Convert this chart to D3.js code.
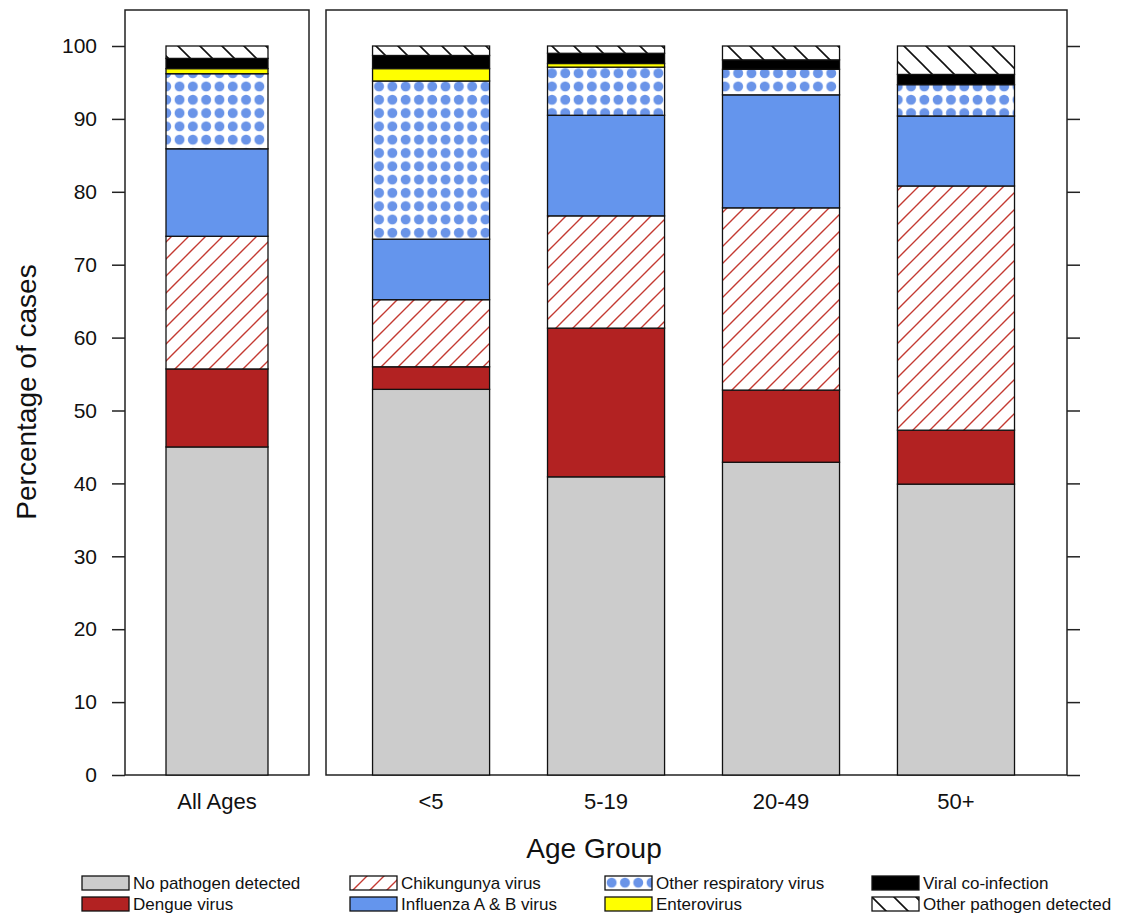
<!DOCTYPE html>
<html lang="en">
<head>
<meta charset="UTF-8">
<title>Pathogens by age group</title>
<script src="https://d3js.org/d3.v7.min.js"></script>
<style>
    body { margin: 0; background: #fff; }
    svg text { font-family: "Liberation Sans", Arial, Helvetica, sans-serif; fill: #111; }
    .frame { fill: none; stroke: #222; stroke-width: 1.5px; }
    .seg { stroke: #111; stroke-width: 1.3px; }
</style>
</head>
<body>
<div id="chart"></div>
<script>
    // groups (first one sits alone in the left panel)
    var groups = ["All Ages", "<5", "5-19", "20-49", "50+"];
    var categories = ["No pathogen detected", "Dengue virus", "Chikungunya virus",
        "Influenza A & B virus", "Other respiratory virus", "Enterovirus",
        "Viral co-infection", "Other pathogen detected"];

    // percentage of cases, one array per category, in group order
    var noPathogen   = [45.0, 52.9, 40.9, 42.9, 39.9];
    var dengue       = [10.7,  3.1, 20.4,  9.9,  7.4];
    var chikungunya  = [18.2,  9.2, 15.4, 25.0, 33.5];
    var influenza    = [12.0,  8.3, 13.8, 15.5,  9.6];
    var otherResp    = [10.3, 21.7,  6.6,  3.5,  4.3];
    var enterovirus  = [ 0.7,  1.7,  0.5,  0.0,  0.0];
    var coInfection  = [ 1.4,  1.8,  1.4,  1.3,  1.4];
    var otherPath    = [ 1.7,  1.3,  1.0,  1.9,  3.9];
    var yTicks = [0, 10, 20, 30, 40, 50, 60, 70, 80, 90, 100];

    var series = [noPathogen, dengue, chikungunya, influenza, otherResp, enterovirus, coInfection, otherPath];
    var fills = ["#cccccc", "#b22222", "url(#chik)", "#6495ed", "url(#dots)", "#ffff00", "#000000", "url(#hatch)"];

    var width = 1127, height = 913;
    var svg = d3.select("#chart").append("svg")
        .attr("width", width).attr("height", height);

    // patterns
    var defs = svg.append("defs");
    var chik = defs.append("pattern").attr("id", "chik")
        .attr("patternUnits", "userSpaceOnUse").attr("width", 17).attr("height", 17);
    chik.append("rect").attr("width", 17).attr("height", 17).attr("fill", "#fff");
    chik.append("path").attr("d", "M-2,19 L19,-2 M-2,2 L2,-2 M15,19 L19,15")
        .attr("stroke", "#c43a32").attr("stroke-width", 1.4);

    var hatch = defs.append("pattern").attr("id", "hatch")
        .attr("patternUnits", "userSpaceOnUse").attr("width", 22).attr("height", 22);
    hatch.append("rect").attr("width", 22).attr("height", 22).attr("fill", "#fff");
    hatch.append("path").attr("d", "M-2,-2 L24,24 M-2,20 L2,24 M20,-2 L24,2")
        .attr("stroke", "#111").attr("stroke-width", 1.6);

    var dots = defs.append("pattern").attr("id", "dots")
        .attr("patternUnits", "userSpaceOnUse").attr("width", 13.3).attr("height", 13.3);
    dots.append("rect").attr("width", 13.3).attr("height", 13.3).attr("fill", "#fff");
    dots.append("circle").attr("cx", 6.65).attr("cy", 6.65).attr("r", 5).attr("fill", "#6a94e8");

    // scales
    var y = d3.scaleLinear().domain([0, 100]).range([775, 46]);
    var panelTop = 10;
    var xLeft = d3.scaleBand().domain(groups.slice(0, 1)).range([125, 309]).paddingOuter(0.402);
    var xRight = d3.scaleBand().domain(groups.slice(1)).range([326, 1067])
        .paddingInner(0.331).paddingOuter(0.283).align(0.47);

    function xPos(g) { return g === groups[0] ? xLeft(g) : xRight(g); }
    function bw(g) { return g === groups[0] ? xLeft.bandwidth() : xRight.bandwidth(); }

    // stacked data
    var rows = groups.map(function(g, i) {
        var r = { group: g };
        categories.forEach(function(c, k) { r[c] = series[k][i]; });
        return r;
    });
    var stacked = d3.stack().keys(categories)(rows);

    // panel frames
    svg.append("rect").attr("class", "frame")
        .attr("x", 125).attr("y", panelTop).attr("width", 309 - 125).attr("height", y(0) - panelTop);
    svg.append("rect").attr("class", "frame")
        .attr("x", 326).attr("y", panelTop).attr("width", 1067 - 326).attr("height", y(0) - panelTop);

    // bars
    stacked.forEach(function(layer, k) {
        svg.append("g").selectAll("rect")
            .data(layer.filter(function(d) { return d[1] - d[0] > 0; }))
            .enter().append("rect")
            .attr("class", "seg")
            .attr("x", function(d) { return xPos(d.data.group); })
            .attr("width", function(d) { return bw(d.data.group); })
            .attr("y", function(d) { return y(d[1]); })
            .attr("height", function(d) { return y(d[0]) - y(d[1]); })
            .attr("fill", fills[k]);
    });

    // y axis left
    var yAxisL = svg.append("g").attr("transform", "translate(125,0)")
        .call(d3.axisLeft(y).tickValues(yTicks).tickSize(13).tickPadding(15));
    yAxisL.select(".domain").remove();
    yAxisL.selectAll("line").attr("stroke", "#222").attr("stroke-width", 1.5);
    yAxisL.selectAll("text").style("font-size", "21px");

    // y ticks right
    var yAxisR = svg.append("g").attr("transform", "translate(1067,0)")
        .call(d3.axisRight(y).tickValues(yTicks).tickSize(13).tickFormat(""));
    yAxisR.select(".domain").remove();
    yAxisR.selectAll("line").attr("stroke", "#222").attr("stroke-width", 1.5);

    // x labels
    svg.append("g").selectAll("text")
        .data(groups).enter().append("text")
        .attr("x", function(g) { return xPos(g) + bw(g) / 2; })
        .attr("y", 809)
        .attr("text-anchor", "middle")
        .style("font-size", "22px")
        .text(function(g) { return g; });

    // axis titles
    svg.append("text")
        .attr("transform", "translate(36,392) rotate(-90)")
        .attr("text-anchor", "middle")
        .style("font-size", "28px")
        .text("Percentage of cases");
    svg.append("text")
        .attr("x", 594).attr("y", 858)
        .attr("text-anchor", "middle")
        .style("font-size", "28px")
        .text("Age Group");

    // legend
    var legCols = [82, 350, 605, 872];
    var legRows = [876, 897];
    var legend = svg.append("g").selectAll("g")
        .data(categories).enter().append("g")
        .attr("transform", function(c, i) {
            return "translate(" + legCols[Math.floor(i / 2)] + "," + legRows[i % 2] + ")";
        });
    legend.append("rect")
        .attr("width", 47).attr("height", 14)
        .attr("fill", function(c, i) { return fills[i]; })
        .attr("stroke", "#111").attr("stroke-width", 1.3);
    legend.append("text")
        .attr("x", 51).attr("y", 13)
        .style("font-size", "17px")
        .text(function(c) { return c; });
</script>
</body>
</html>
